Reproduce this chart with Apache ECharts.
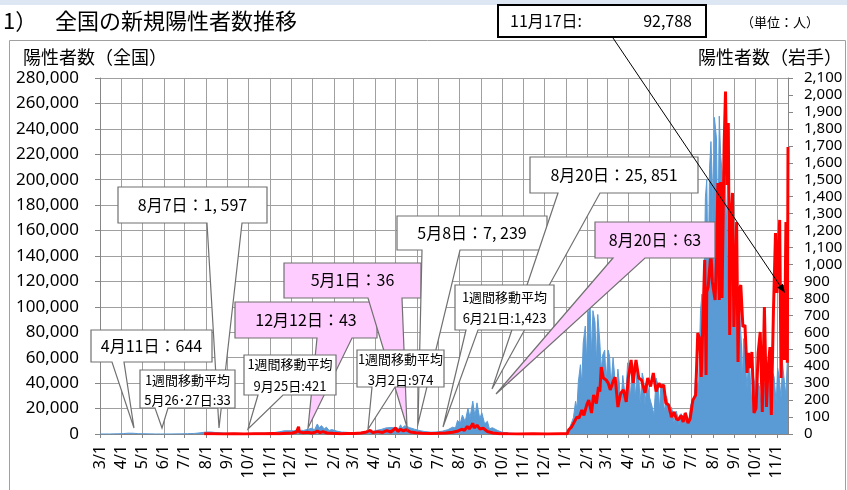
<!DOCTYPE html>
<html><head><meta charset="utf-8">
<script src="https://cdn.jsdelivr.net/npm/echarts@6/dist/echarts.min.js"></script>
<style>html,body{margin:0;padding:0;background:#fff}#c{width:847px;height:490px}</style>
</head><body><div id="c"></div>
<script>
// ---- axis ranges ----
const xStart = '2020-03-01';
const xEnd = '2022-11-17';
const leftAxis = { min: 0, max: 280000, interval: 20000 };
const rightAxis = { min: 0, max: 2100, interval: 100 };

// ---- 全国 daily new positives [date, value] ----
const nat2020 = [
['2020-03-01',15],['2020-03-15',40],['2020-03-28',200],['2020-04-04',350],['2020-04-11',644],['2020-04-18',580],
['2020-04-25',280],['2020-05-02',200],['2020-05-10',100],['2020-05-20',30],['2020-05-27',33],['2020-06-10',40],
['2020-06-25',100],['2020-07-05',250],['2020-07-15',450],['2020-07-23',900],['2020-07-31',1500],['2020-08-07',1597],
['2020-08-14',1200],['2020-08-21',1000],['2020-09-01',600],['2020-09-12',550],['2020-09-25',421],['2020-10-10',600],
['2020-10-24',750],['2020-11-05',1000],['2020-11-14',1700],['2020-11-21',2500],['2020-11-28',2600],['2020-12-05',2500],
['2020-12-12',3000],['2020-12-19',2800],['2020-12-26',3800],['2020-12-31',4500]
];
const nat2021 = [
['2021-01-04',3300],['2021-01-08',7900],['2021-01-11',4900],['2021-01-14',6600],['2021-01-18',4000],['2021-01-21',5400],
['2021-01-25',2800],['2021-01-29',3500],['2021-02-05',2300],['2021-02-12',1500],['2021-02-20',1300],['2021-03-02',974],
['2021-03-12',1300],['2021-03-20',1700],['2021-03-27',2000],['2021-04-03',2800],['2021-04-10',3600],['2021-04-17',4800],
['2021-04-24',5100],['2021-05-01',5000],['2021-05-05',4000],['2021-05-08',7239],['2021-05-10',4600],['2021-05-14',6500],
['2021-05-21',5000],['2021-05-28',3800],['2021-06-05',2600],['2021-06-12',1900],['2021-06-21',1423],['2021-06-28',1600],
['2021-07-07',2200],['2021-07-15',3400],['2021-07-22',5400],['2021-07-26',4700],['2021-07-29',10700],['2021-08-02',8400],
['2021-08-05',14900],['2021-08-09',9700],['2021-08-13',20300],['2021-08-16',13000],['2021-08-20',25851],['2021-08-23',14000],
['2021-08-26',24500],['2021-08-30',12000],['2021-09-02',16700],['2021-09-06',8000],['2021-09-10',10000],['2021-09-13',4000],
['2021-09-17',5000],['2021-09-25',2700],['2021-10-01',1400],['2021-10-10',800],['2021-10-20',400],['2021-11-01',200],
['2021-11-15',150],['2021-12-01',130],['2021-12-15',180],['2021-12-25',300],['2021-12-31',550]
];
const nat2022 = [
['2022-01-03',1000],['2022-01-06',4500],['2022-01-09',8500],['2022-01-12',13000],['2022-01-15',25700],['2022-01-17',20000],
['2022-01-19',41000],['2022-01-22',54500],['2022-01-24',39000],['2022-01-26',71600],['2022-01-29',84900],['2022-01-31',57000],
['2022-02-02',94000],['2022-02-05',100500],['2022-02-07',62000],['2022-02-09',97000],['2022-02-12',88000],['2022-02-14',55000],
['2022-02-16',94000],['2022-02-19',72000],['2022-02-21',50000],['2022-02-23',62000],['2022-02-26',66000],['2022-02-28',41000],
['2022-03-03',66000],['2022-03-05',61000],['2022-03-07',37000],['2022-03-10',60000],['2022-03-12',48000],['2022-03-14',27000],
['2022-03-17',51000],['2022-03-19',40000],['2022-03-21',20000],['2022-03-24',46000],['2022-03-26',47000],['2022-03-28',27000],
['2022-03-31',56000],['2022-04-02',48000],['2022-04-04',28000],['2022-04-07',56000],['2022-04-09',50000],['2022-04-11',28000],
['2022-04-14',53000],['2022-04-16',46000],['2022-04-18',24000],['2022-04-21',48000],['2022-04-23',43000],['2022-04-25',23000],
['2022-04-28',42000],['2022-05-01',30000],['2022-05-05',22000],['2022-05-08',15000],['2022-05-11',44000],['2022-05-14',38000],
['2022-05-16',19000],['2022-05-18',40000],['2022-05-21',33000],['2022-05-23',17000],['2022-05-26',30000],['2022-05-28',24000],
['2022-05-30',12000],['2022-06-02',21000],['2022-06-04',17000],['2022-06-06',8000],['2022-06-09',18000],['2022-06-11',14000],
['2022-06-13',7000],['2022-06-16',16000],['2022-06-18',14000],['2022-06-20',7000],['2022-06-23',17000],['2022-06-25',16000],
['2022-06-27',10000],['2022-06-30',23000],['2022-07-02',26000],['2022-07-04',19000],['2022-07-07',47000],['2022-07-09',48000],
['2022-07-11',33000],['2022-07-14',97000],['2022-07-16',110000],['2022-07-18',72000],['2022-07-21',186000],['2022-07-23',200000],
['2022-07-25',118000],['2022-07-27',209000],['2022-07-29',230000],['2022-07-31',198000],['2022-08-01',140000],['2022-08-03',249000],
['2022-08-05',238000],['2022-08-06',232000],['2022-08-08',145000],['2022-08-10',250000],['2022-08-12',219000],['2022-08-14',206000],
['2022-08-15',120000],['2022-08-17',205000],['2022-08-19',195000],['2022-08-21',160000],['2022-08-22',105000],['2022-08-24',170000],
['2022-08-26',150000],['2022-08-28',125000],['2022-08-29',80000],['2022-08-31',140000],['2022-09-02',120000],['2022-09-04',95000],
['2022-09-05',60000],['2022-09-07',105000],['2022-09-09',90000],['2022-09-11',70000],['2022-09-12',40000],['2022-09-14',75000],
['2022-09-16',65000],['2022-09-19',35000],['2022-09-21',58000],['2022-09-23',50000],['2022-09-26',22000],['2022-09-28',46000],
['2022-09-30',40000],['2022-10-03',17000],['2022-10-05',40000],['2022-10-07',37000],['2022-10-10',15000],['2022-10-12',38000],
['2022-10-14',40000],['2022-10-17',17000],['2022-10-19',42000],['2022-10-21',44000],['2022-10-24',20000],['2022-10-26',48000],
['2022-10-28',45000],['2022-10-31',24000],['2022-11-02',52000],['2022-11-04',46000],['2022-11-07',28000],['2022-11-09',56000],
['2022-11-11',55000],['2022-11-14',30000],['2022-11-16',58000],['2022-11-17',55000]
];

// ---- 岩手 daily new positives [date, value] ----
const iwate2020 = [
['2020-07-29',1],['2020-08-10',1],['2020-08-25',0],['2020-09-10',1],['2020-09-25',0],['2020-10-10',2],['2020-10-25',1],
['2020-11-05',3],['2020-11-15',2],['2020-11-25',5],['2020-12-03',6],['2020-12-09',12],['2020-12-11',20],['2020-12-12',43],
['2020-12-13',12],['2020-12-18',8],['2020-12-25',10],['2020-12-31',6]
];
const iwate2021 = [
['2021-01-05',10],['2021-01-08',18],['2021-01-12',8],['2021-01-16',14],['2021-01-22',6],['2021-01-30',4],['2021-02-10',2],
['2021-02-20',3],['2021-03-02',3],['2021-03-12',6],['2021-03-20',12],['2021-03-25',22],['2021-03-29',8],['2021-04-05',14],
['2021-04-12',9],['2021-04-18',20],['2021-04-24',12],['2021-04-28',25],['2021-05-01',36],['2021-05-04',15],['2021-05-08',28],
['2021-05-12',18],['2021-05-16',26],['2021-05-22',12],['2021-05-30',8],['2021-06-08',5],['2021-06-20',3],['2021-07-01',4],
['2021-07-12',6],['2021-07-22',10],['2021-07-30',18],['2021-08-04',28],['2021-08-08',22],['2021-08-12',45],['2021-08-15',30],
['2021-08-18',48],['2021-08-20',63],['2021-08-22',35],['2021-08-26',52],['2021-08-30',30],['2021-09-04',34],['2021-09-10',15],
['2021-09-18',6],['2021-09-28',2],['2021-10-10',1],['2021-10-25',0],['2021-11-15',1],['2021-12-05',0],['2021-12-25',1]
];
const iwate2022 = [
['2022-01-03',1],['2022-01-05',24],['2022-01-09',40],['2022-01-13',70],['2022-01-17',100],['2022-01-20',95],['2022-01-24',142],
['2022-01-27',110],['2022-01-31',170],['2022-02-03',200],['2022-02-07',124],['2022-02-10',230],['2022-02-14',180],['2022-02-17',277],
['2022-02-19',250],['2022-02-21',395],['2022-02-24',330],['2022-02-28',319],['2022-03-03',300],['2022-03-06',260],['2022-03-10',310],
['2022-03-13',336],['2022-03-17',159],['2022-03-21',240],['2022-03-25',260],['2022-03-29',190],['2022-04-01',330],['2022-04-05',437],
['2022-04-08',300],['2022-04-12',437],['2022-04-16',330],['2022-04-20',319],['2022-04-25',242],['2022-04-29',330],['2022-05-03',280],
['2022-05-07',360],['2022-05-11',250],['2022-05-15',300],['2022-05-18',277],['2022-05-22',289],['2022-05-25',183],['2022-05-29',171],
['2022-06-02',100],['2022-06-06',130],['2022-06-09',90],['2022-06-12',83],['2022-06-16',110],['2022-06-19',71],['2022-06-22',124],
['2022-06-26',65],['2022-06-29',90],['2022-07-03',200],['2022-07-07',230],['2022-07-10',596],['2022-07-13',560],['2022-07-15',336],
['2022-07-17',602],['2022-07-20',1027],['2022-07-22',348],['2022-07-23',838],['2022-07-25',867],['2022-07-29',1068],['2022-07-31',897],
['2022-08-04',791],['2022-08-06',1038],['2022-08-08',1481],['2022-08-10',791],['2022-08-12',1487],['2022-08-14',802],['2022-08-17',1705],
['2022-08-19',2020],['2022-08-21',1469],['2022-08-23',1835],['2022-08-25',584],['2022-08-27',1274],['2022-08-29',1422],['2022-08-31',631],
['2022-09-04',1251],['2022-09-06',425],['2022-09-08',850],['2022-09-10',879],['2022-09-13',631],['2022-09-16',643],['2022-09-19',360],
['2022-09-21',478],['2022-09-23',389],['2022-09-26',484],['2022-09-29',124],['2022-10-02',153],['2022-10-05',478],['2022-10-08',602],
['2022-10-11',130],['2022-10-14',749],['2022-10-17',159],['2022-10-19',366],['2022-10-22',513],['2022-10-24',112],['2022-10-27',720],
['2022-10-30',1186],['2022-11-01',832],['2022-11-03',1074],['2022-11-05',1263],['2022-11-07',330],['2022-11-10',879],['2022-11-12',437],
['2022-11-14',1250],['2022-11-16',420],['2022-11-17',1693]
];

// ---- build category axis (one category per day) ----
function buildDays(s, e) {
  const out = [];
  let t = Date.parse(s + 'T00:00:00Z');
  const end = Date.parse(e + 'T00:00:00Z');
  while (t <= end) { out.push(new Date(t).toISOString().slice(0, 10)); t += 86400000; }
  return out;
}
const days = buildDays(xStart, xEnd);
const isMonthStart = (i, v) => v.slice(8) === '01';
const monthLabel = v => (+v.slice(5, 7)) + '/1';
const comma = v => String(v).replace(/\B(?=(\d{3})+(?!\d))/g, ',');

const JP = '"Noto Sans CJK JP", sans-serif';
const GRID = '#a0a0a0', AX = '#868686';

// ---- annotations (layout in pixels) ----
const callouts = [
  { box:[91,330,121,32], base:[112,124], tip:[134,428], fill:'#fff', lines:[['4月11日：644',16,16]] },
  { box:[118,187,149,36], base:[207,242], tip:[219,428], fill:'#fff', lines:[['8月7日：1, 597',18,16]] },
  { box:[140,370,95,38], base:[155,168], tip:[162,428], fill:'#fff', lines:[['1週間移動平均',10,13],['5月26･27日:33',30,13]] },
  { box:[235,302,142,36], base:[317,352], tip:[308,428], fill:'#ffccff', lines:[['12月12日：43',18,16]] },
  { box:[244,355,92,40], base:[258,283], tip:[248,429], fill:'#fff', lines:[['1週間移動平均',9,13],['9月25日:421',31,13]] },
  { box:[284,263,137,35], base:[368,402], tip:[407,427], fill:'#ffccff', lines:[['5月1日：36',17,16]] },
  { box:[397,216,150,34], base:[422,460], tip:[418,424], fill:'#fff', lines:[['5月8日：7, 239',17,16]] },
  { box:[357,350,87,37], base:[372,395], tip:[368,429], fill:'#fff', lines:[['1週間移動平均',9,13],['3月2日:974',30,13]] },
  { box:[530,157,168,36], base:[558,600], tip:[492,389], fill:'#fff', lines:[['8月20日：25, 851',18,16]] },
  { box:[455,285,99,45], base:[466,478], tip:[443,427], fill:'#fff', lines:[['1週間移動平均',12,13],['6月21日:1,423',33,13]] },
  { box:[595,222,120,36], base:[613,645], tip:[496,394], fill:'#ffccff', lines:[['8月20日：63',18,16]] }
];

const graphics = [];
let z = 100;
graphics.push({ type:'rect', z:z++, silent:true, shape:{x:0,y:0,width:847,height:5}, style:{fill:'#dde7f3'} });
graphics.push({ type:'rect', z:z++, silent:true, shape:{x:9.5,y:40.5,width:836,height:470}, style:{fill:'none', stroke:'#a0a0a0', lineWidth:1} });
graphics.push({ type:'text', z:z++, x:3, y:21, style:{text:'1）', font:'22px ' + JP, fill:'#000', align:'left', verticalAlign:'middle'} });
graphics.push({ type:'text', z:z++, x:55, y:21, style:{text:'全国の新規陽性者数推移', font:'22px ' + JP, fill:'#000', align:'left', verticalAlign:'middle'} });
graphics.push({ type:'text', z:z++, x:741, y:22, style:{text:'（単位：人）', font:'13px ' + JP, fill:'#000', align:'left', verticalAlign:'middle'} });
graphics.push({ type:'text', z:z++, x:23, y:57, style:{text:'陽性者数（全国）', font:'18px ' + JP, fill:'#000', align:'left', verticalAlign:'middle'} });
graphics.push({ type:'text', z:z++, x:842, y:57, style:{text:'陽性者数（岩手）', font:'18px ' + JP, fill:'#000', align:'right', verticalAlign:'middle'} });

callouts.forEach(c => {
  const [x, y, w, h] = c.box;
  const pts = [[x,y],[x+w,y],[x+w,y+h],[c.base[1],y+h],c.tip,[c.base[0],y+h],[x,y+h]];
  graphics.push({ type:'polygon', z:z++, silent:true, shape:{points:pts}, style:{fill:c.fill, stroke:'#707070', lineWidth:1.2} });
  c.lines.forEach(([t, dy, fs]) => {
    graphics.push({ type:'text', z:z++, silent:true, x:x + w / 2, y:y + dy,
      style:{text:t, font:fs + 'px ' + JP, fill:'#000', align:'center', verticalAlign:'middle'} });
  });
});

// top box + arrow
graphics.push({ type:'line', z:z++, silent:true, shape:{x1:613,y1:38,x2:781,y2:287}, style:{stroke:'#000', lineWidth:1} });
graphics.push({ type:'polygon', z:z++, silent:true, shape:{points:[[785,293],[777.2,287.6],[782.9,283.8]]}, style:{fill:'#000'} });
graphics.push({ type:'rect', z:z++, silent:true, shape:{x:498,y:5,width:208,height:32}, style:{fill:'#fff', stroke:'#000', lineWidth:2} });
graphics.push({ type:'text', z:z++, x:510, y:21, style:{text:'11月17日:', font:'16px ' + JP, fill:'#000', align:'left', verticalAlign:'middle'} });
graphics.push({ type:'text', z:z++, x:692, y:21, style:{text:'92,788', font:'16px ' + JP, fill:'#000', align:'right', verticalAlign:'middle'} });

const chart = echarts.init(document.getElementById('c'), null, { renderer: 'canvas' });
chart.setOption({
  animation: false,
  backgroundColor: '#fff',
  grid: { left: 100, right: 59, top: 78, bottom: 56, containLabel: false },
  xAxis: {
    type: 'category', data: days, boundaryGap: false,
    axisLine: { lineStyle: { color: AX } },
    axisTick: { show: true, interval: isMonthStart, length: 4, lineStyle: { color: AX } },
    axisLabel: { interval: isMonthStart, rotate: 90, formatter: monthLabel, fontSize: 16, fontFamily: 'Noto Sans', color: '#000', margin: 11, hideOverlap: false },
    splitLine: { show: true, interval: isMonthStart, lineStyle: { color: GRID, width: 1 } }
  },
  yAxis: [
    { type: 'value', position: 'left', min: leftAxis.min, max: leftAxis.max, interval: leftAxis.interval,
      axisLine: { show: true, lineStyle: { color: AX } },
      axisTick: { show: true, length: 5, lineStyle: { color: AX } },
      axisLabel: { formatter: comma, fontSize: 17, fontFamily: 'Noto Sans', color: '#000', margin: 21 },
      splitLine: { show: true, lineStyle: { color: GRID, width: 1 } } },
    { type: 'value', position: 'right', min: rightAxis.min, max: rightAxis.max, interval: rightAxis.interval,
      axisLine: { show: true, lineStyle: { color: AX } },
      axisTick: { show: true, length: 5, lineStyle: { color: AX } },
      axisLabel: { formatter: comma, fontSize: 15, fontFamily: 'Noto Sans', color: '#000', margin: 16 },
      splitLine: { show: false } }
  ],
  series: [
    { name: '全国', type: 'line', yAxisIndex: 0, data: nat2020.concat(nat2021, nat2022), symbol: 'none',
      lineStyle: { width: 1, color: '#5b9bd5' }, areaStyle: { color: '#5b9bd5', opacity: 1 }, z: 2 },
    { name: '岩手', type: 'line', yAxisIndex: 1, data: iwate2020.concat(iwate2021, iwate2022), symbol: 'none',
      lineStyle: { width: 3, color: '#ff0000' }, z: 3 }
  ],
  graphic: graphics
});
</script>
</body></html>
